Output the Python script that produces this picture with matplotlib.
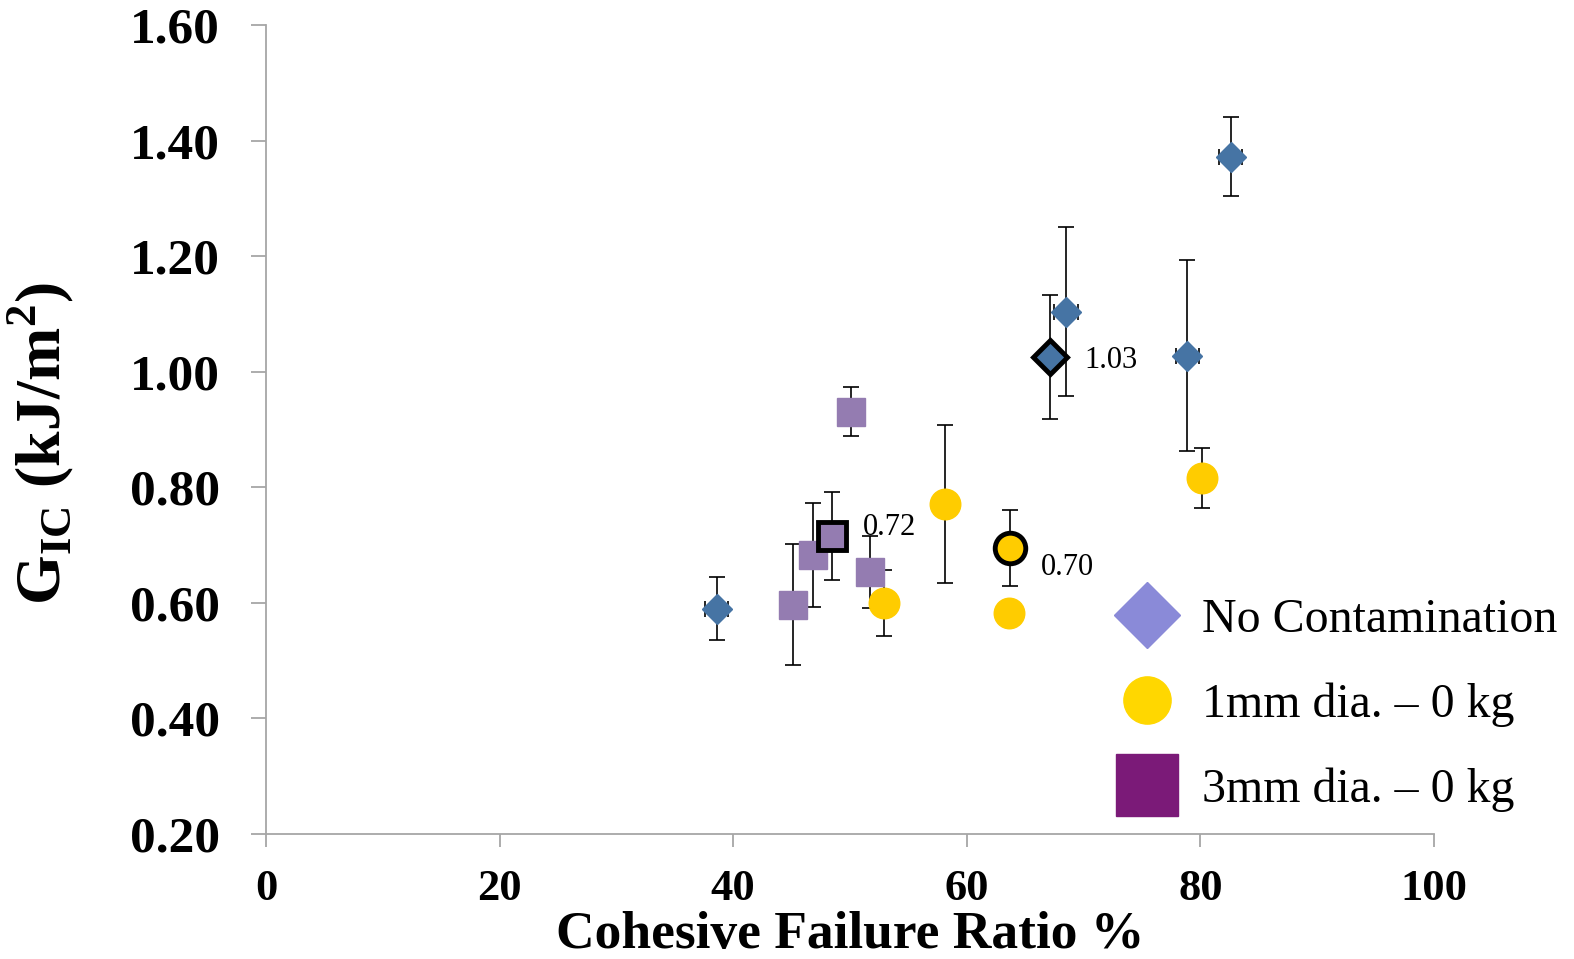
import matplotlib
matplotlib.use("Agg")
import matplotlib.pyplot as plt
from matplotlib.lines import Line2D

plt.rcParams['font.family'] = ['Liberation Serif', 'DejaVu Serif']
plt.rcParams['mathtext.fontset'] = 'custom'
plt.rcParams['mathtext.rm'] = 'Liberation Serif:bold'
plt.rcParams['mathtext.bf'] = 'Liberation Serif:bold'

# ---- data ----
# No contamination (individual specimens)
nc_x = [38.6, 68.5, 78.9, 82.6]
nc_y = [0.590, 1.104, 1.028, 1.372]
nc_err = [0.055, 0.146, 0.165, 0.068]
# No contamination (highlighted average)
nc_avg_x = [67.1]
nc_avg_y = [1.025]
nc_avg_err = [0.107]

# 1 mm dia. - 0 kg
one_x = [52.9, 58.1, 63.6, 80.1]
one_y = [0.600, 0.771, 0.583, 0.816]
one_err = [0.057, 0.136, 0.0, 0.052]
one_avg_x = [63.7]
one_avg_y = [0.695]
one_avg_err = [0.065]

# 3 mm dia. - 0 kg
three_x = [45.1, 46.8, 50.1, 51.7]
three_y = [0.597, 0.683, 0.931, 0.654]
three_err = [0.105, 0.090, 0.042, 0.062]
three_avg_x = [48.5]
three_avg_y = [0.716]
three_avg_err = [0.076]

avg_labels = ["1.03", "0.70", "0.72"]
legend_labels = ["No Contamination", "1mm dia. \u2013 0 kg", "3mm dia. \u2013 0 kg"]

x_ticks = [0, 20, 40, 60, 80, 100]
y_ticks = [0.20, 0.40, 0.60, 0.80, 1.00, 1.20, 1.40, 1.60]

# ---- colours ----
BLUE = '#4674A4'
YELLOW = '#FFCC00'
PURPLE = '#947CB1'
SPINE = '#A6A6A6'

fig = plt.figure(figsize=(15.74, 9.59), dpi=100)
ax = fig.add_axes([0.169, 0.1303, 0.742, 0.8436])

ekw = dict(ecolor='black', elinewidth=1.2, capsize=6, capthick=1.2, linestyle='none')

# individual points
ax.errorbar(nc_x, nc_y, yerr=nc_err, xerr=1.0, marker='D', ms=15.5, mfc=BLUE, mec=BLUE, zorder=3, **ekw)
ax.errorbar(one_x, one_y, yerr=one_err, marker='o', ms=22, mfc=YELLOW, mec=YELLOW, zorder=3, **ekw)
ax.errorbar(three_x, three_y, yerr=three_err, marker='s', ms=20, mfc=PURPLE, mec=PURPLE, zorder=3, **ekw)

# highlighted averages: error bars first, then outlined markers on top
ax.errorbar(nc_avg_x, nc_avg_y, yerr=nc_avg_err, fmt='none', zorder=3, **ekw)
ax.errorbar(one_avg_x, one_avg_y, yerr=one_avg_err, fmt='none', zorder=3, **ekw)
ax.errorbar(three_avg_x, three_avg_y, yerr=three_avg_err, fmt='none', zorder=3, **ekw)
ax.plot(nc_avg_x, nc_avg_y, linestyle='none', marker='D', ms=17, mfc=BLUE, mec='black', mew=3.5, zorder=4)
ax.plot(one_avg_x, one_avg_y, linestyle='none', marker='o', ms=22, mfc=YELLOW, mec='black', mew=3.5, zorder=4)
ax.plot(three_avg_x, three_avg_y, linestyle='none', marker='s', ms=20, mfc=PURPLE, mec='black', mew=3.5, zorder=4)

offsets = [(25, -2), (22, -14), (22, 6)]
for x, y, lab, off in zip(nc_avg_x + one_avg_x + three_avg_x,
                          nc_avg_y + one_avg_y + three_avg_y,
                          avg_labels, offsets):
    ax.annotate(lab, (x, y), xytext=off, textcoords='offset points',
                fontsize=22, va='center', ha='left', zorder=5)

ax.set_xlim(0, 100)
ax.set_ylim(0.20, 1.60)
ax.set_xticks(x_ticks)
ax.set_xticklabels([str(t) for t in x_ticks])
ax.set_yticks(y_ticks)
ax.set_yticklabels([f"{t:.2f}" for t in y_ticks])

for s in ['top', 'right']:
    ax.spines[s].set_visible(False)
for s in ['left', 'bottom']:
    ax.spines[s].set_color(SPINE)
    ax.spines[s].set_linewidth(1.3)
ax.tick_params(axis='y', direction='out', length=11, width=1.3, color=SPINE,
               labelsize=37, pad=22)
ax.tick_params(axis='x', direction='out', length=9, width=1.3, color=SPINE,
               labelsize=32, pad=16)
for lab in ax.get_xticklabels() + ax.get_yticklabels():
    lab.set_fontweight('bold')

ax.set_xlabel('Cohesive Failure Ratio %', fontsize=38.5, fontweight='bold')
ax.set_ylabel(r'G$_{\mathbf{IC}}$ (kJ/m$^{\mathbf{2}}$)', fontsize=46, fontweight='bold')
ax.xaxis.set_label_coords(0.5, -0.095)
ax.yaxis.set_label_coords(-0.163, 0.483)

handles = [
    Line2D([], [], linestyle='none', marker='D', ms=34, mfc='#8A8AD8', mec='#8A8AD8'),
    Line2D([], [], linestyle='none', marker='o', ms=34, mfc='#FFD700', mec='#FFD700'),
    Line2D([], [], linestyle='none', marker='s', ms=45, mfc='#7B1A78', mec='#7B1A78'),
]
leg = ax.legend(handles, legend_labels, loc='center left', bbox_to_anchor=(0.7059, 0.265),
                bbox_transform=fig.transFigure, frameon=False, fontsize=34.5,
                handletextpad=0.4, labelspacing=0.85, borderaxespad=0, borderpad=0,
                handlelength=1.5)

fig.savefig('out.png', dpi=100)
